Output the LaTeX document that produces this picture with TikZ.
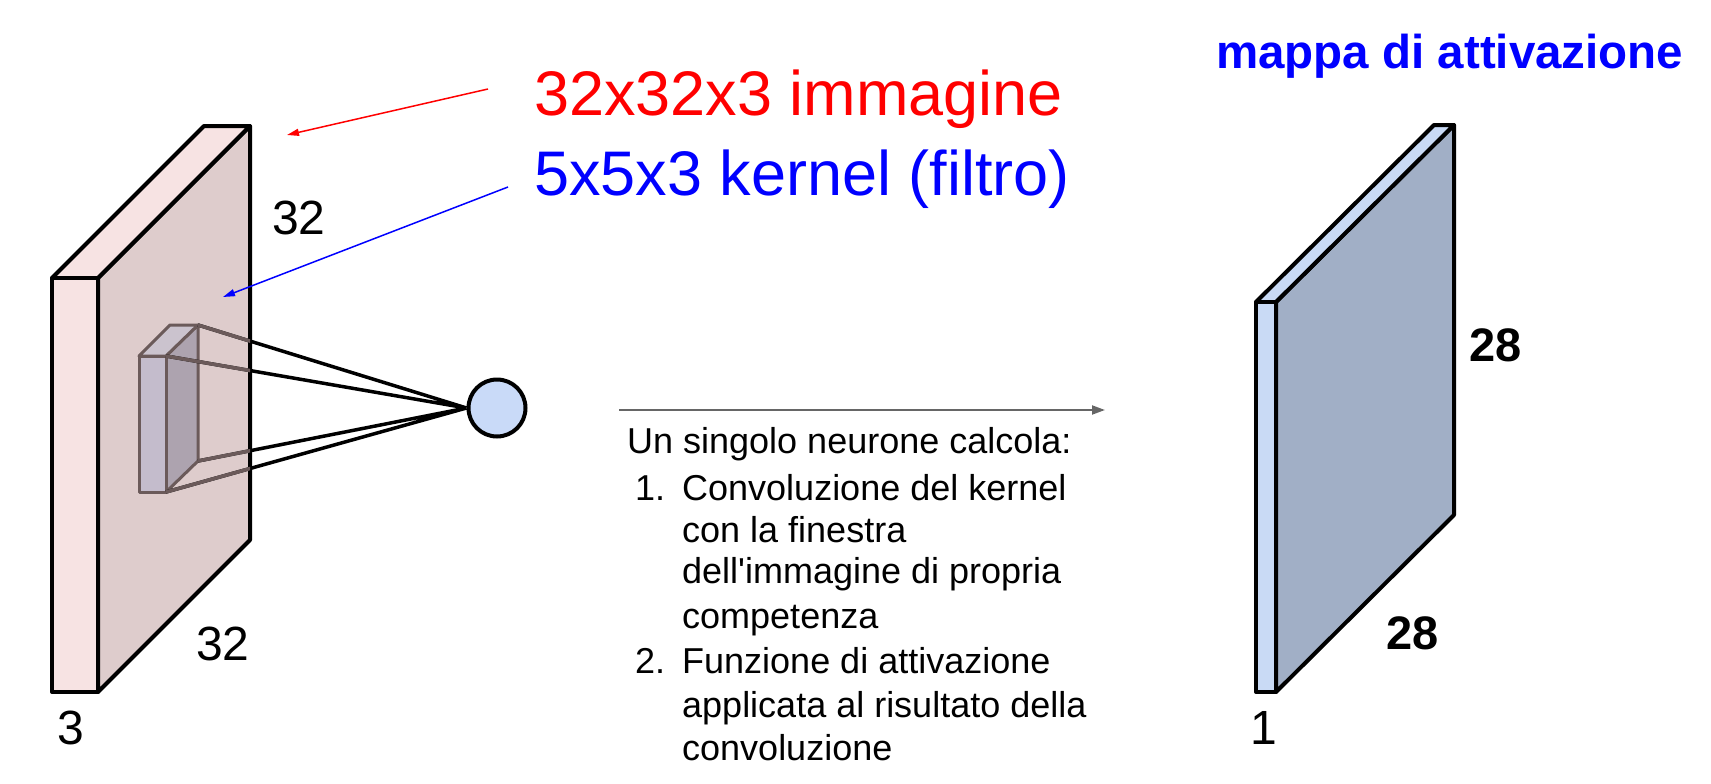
\documentclass[tikz,border=0pt]{standalone}
\usepackage{fontspec}
\setmainfont{Liberation Sans}
\usetikzlibrary{arrows.meta}
\definecolor{pinkside}{HTML}{F7E3E3}
\definecolor{pinkface}{HTML}{DECCCC}
\definecolor{kfront}{HTML}{C4BCCC}
\definecolor{kside}{HTML}{ADA3AF}
\definecolor{ktop}{HTML}{CBC3CE}
\definecolor{kedge}{HTML}{6B5A5A}
\definecolor{bluside}{HTML}{C9DAF5}
\definecolor{bluface}{HTML}{A1AFC6}
\definecolor{neurfill}{HTML}{C9DAF8}
\definecolor{arrgray}{HTML}{666666}
\tikzset{
  slab/.style={draw=black,line width=4pt,line join=round},
  kbox/.style={draw=kedge,line width=3pt,line join=round},
  conn/.style={line width=3.5pt},
  neuron/.style={circle,draw=black,line width=4pt,fill=neurfill,minimum size=57pt,inner sep=0pt},
  pointer/.style={line width=1.5pt,-{Triangle[length=12pt,width=7pt]}},
  title/.style={anchor=base west,inner sep=0pt,font=\fontsize{63}{70}\selectfont},
  lbl/.style={anchor=base west,inner sep=0pt,font=\fontsize{48}{56}\selectfont},
  lblb/.style={anchor=base west,inner sep=0pt,font=\fontsize{47}{56}\selectfont\bfseries},
  body/.style={anchor=base west,inner sep=0pt,font=\fontsize{36}{43}\selectfont}
}
\begin{document}
\begin{tikzpicture}[x=1pt,y=-1pt]
\useasboundingbox (0,0) rectangle (1711,784);
% volume di ingresso
\coordinate (A1) at (52,278);
\coordinate (A2) at (98,278);
\coordinate (A3) at (98,692);
\coordinate (A4) at (52,692);
\coordinate (A5) at (204,126);
\coordinate (A6) at (250,126);
\coordinate (A7) at (250,540);
\filldraw[slab,fill=pinkface] (A2)--(A6)--(A7)--(A3)--cycle;
\filldraw[slab,fill=pinkside] (A1)--(A5)--(A6)--(A2)--cycle;
\filldraw[slab,fill=pinkside] (A1)--(A2)--(A3)--(A4)--cycle;
% kernel
\coordinate (K1) at (139,356);
\coordinate (K2) at (166,356);
\coordinate (K3) at (166,492);
\coordinate (K4) at (139,492);
\coordinate (K5) at (170,325);
\coordinate (K6) at (198,325);
\coordinate (K7) at (198,461);
\filldraw[kbox,fill=kside] (K2)--(K6)--(K7)--(K3)--cycle;
\filldraw[kbox,fill=ktop] (K1)--(K5)--(K6)--(K2)--cycle;
\filldraw[kbox,fill=kfront] (K1)--(K2)--(K3)--(K4)--cycle;
% neurone
\node[neuron] (n) at (497,408) {};
\draw[conn] (K6)--(n.west) (K2)--(n.west) (K7)--(n.west) (K3)--(n.west);
\begin{scope}
\clip (A2)--(A6)--(A7)--(A3)--cycle;
\draw[conn,kedge,line width=3.5pt] (K6)--(n.west) (K2)--(n.west) (K7)--(n.west) (K3)--(n.west);
\end{scope}
% mappa di attivazione
\coordinate (B1) at (1256,302);
\coordinate (B2) at (1276,302);
\coordinate (B3) at (1276,692);
\coordinate (B4) at (1256,692);
\coordinate (B5) at (1434,125);
\coordinate (B6) at (1454,125);
\coordinate (B7) at (1454,515);
\filldraw[slab,fill=bluface] (B2)--(B6)--(B7)--(B3)--cycle;
\filldraw[slab,fill=bluside] (B1)--(B5)--(B6)--(B2)--cycle;
\filldraw[slab,fill=bluside] (B1)--(B2)--(B3)--(B4)--cycle;
% dimensioni
\node[lbl] (l32a) at (272,234) {32};
\node[lbl] (l32b) at (196,660) {32};
\node[lbl] (l3) at (57,744) {3};
\node[lblb] (l28a) at (1469,361) {28};
\node[lblb] (l28b) at (1386,649) {28};
\node[lbl] (l1) at (1250,744) {1};
% titoli
\node[title,red] (timg) at (534,115) {32x32x3 immagine};
\node[title,blue] (tker) at (534,195) {5x5x3 kernel (filtro)};
\node[anchor=base west,inner sep=0pt,blue,font=\fontsize{47.5}{54}\selectfont\bfseries] (tmap) at (1216,69) {mappa di attivazione};
\coordinate (r0) at (488,89);
\coordinate (r1) at (287,135);
\coordinate (b0) at (508,187);
\coordinate (b1) at (223,297);
\draw[pointer,red] (r0)--(r1);
\draw[pointer,blue] (b0)--(b1);
% freccia e testo
\coordinate (m0) at (619,410);
\coordinate (m1) at (1105,410);
\draw[arrgray,line width=2pt,-{Triangle[length=13pt,width=9pt]}] (m0)--(m1);
\node[body] (calc) at (627,453) {Un singolo neurone calcola:};
\node[body] (n1) at (635,500) {1.};
\node[body] (n2) at (635,673) {2.};
\foreach \y/\t [count=\i] in {500/Convoluzione del kernel,542/con la finestra,
  583/dell\textquotesingle immagine di propria,628/competenza,673/Funzione di attivazione,
  717/applicata al risultato della,760/convoluzione}
  \node[body] (riga\i) at (682,\y) {\t};
\end{tikzpicture}
\end{document}
